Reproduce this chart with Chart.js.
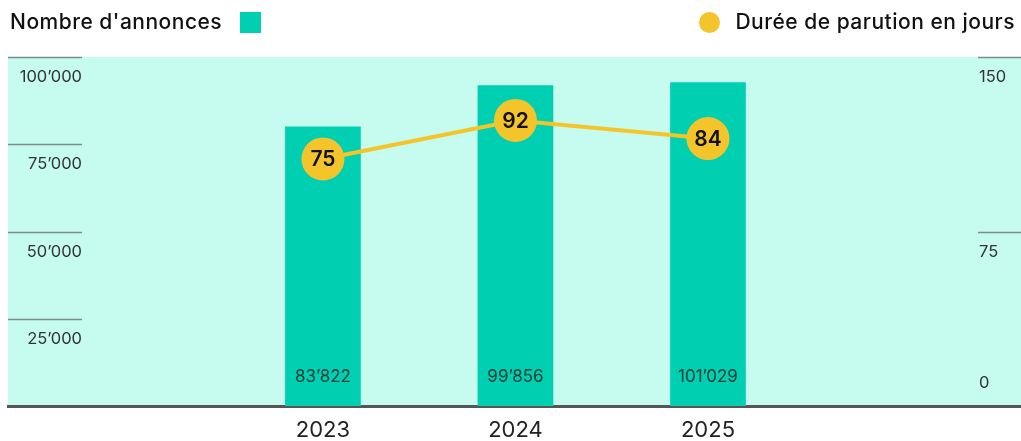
<!DOCTYPE html>
<html lang="fr">
<head>
<meta charset="utf-8">
<title>Nombre d'annonces et durée de parution</title>
<script src="https://cdn.jsdelivr.net/npm/chart.js@4/dist/chart.umd.min.js"></script>
<style>
  html, body { margin: 0; padding: 0; background: #fff; }
  body { width: 1021px; height: 441px; position: relative; overflow: hidden; font-family: Inter, "Noto Sans", sans-serif; }
  #chartWrap { position: absolute; left: 0; top: 0; width: 1021px; height: 441px; }
  .legend { position: absolute; top: 8px; display: flex; align-items: center; font-size: 21px; font-weight: 500; line-height: 28px; letter-spacing: 0.5px; color: #111; }
  #legendLeft { left: 10px; }
  #legendRight { right: 6px; }
  .sq { width: 21px; height: 21px; background: #00cfb1; margin-left: 18px; }
  .dot { width: 21px; height: 21px; border-radius: 50%; background: #f4c52a; margin-right: 15px; }
</style>
</head>
<body>
<div id="chartWrap"><canvas id="chart" width="1021" height="441"></canvas></div>
<div class="legend" id="legendLeft"><span>Nombre d'annonces</span><span class="sq"></span></div>
<div class="legend" id="legendRight"><span class="dot"></span><span>Durée de parution en jours</span></div>
<script>
// values
const years = [2023, 2024, 2025];
const annonces = [83822, 99856, 101029];
const dureeJours = [75, 92, 84];
const leftTicks = [25000, 50000, 75000, 100000];
const rightTicks = [0, 75, 150];

const COLORS = {
  bg: "#c5fcef",
  bar: "#00cfb1",
  yellow: "#f4c52a",
  grid: "#7d8a88",
  text: "#222",
  axis: "#555",
};
const FONT = "Inter, 'Noto Sans', sans-serif";

function fmtNum(n) {
  // swiss style thousands separator
  return String(n).replace(/\B(?=(\d{3})+(?!\d))/g, "\u2019");
}

// mint background + short grid marks + axis labels
const decorPlugin = {
  id: "decor",
  beforeDraw(chart) {
    const { ctx, chartArea: a } = chart;
    ctx.save();
    ctx.fillStyle = COLORS.bg;
    ctx.fillRect(a.left, a.top, a.right - a.left, a.bottom - a.top);
    ctx.restore();
  },
  beforeDatasetsDraw(chart) {
    const { ctx, chartArea: a, scales } = chart;
    ctx.save();
    ctx.strokeStyle = COLORS.grid;
    ctx.lineWidth = 1.5;
    ctx.fillStyle = "#333";
    ctx.font = `16.5px ${FONT}`;
    ctx.textBaseline = "middle";

    leftTicks.forEach((v) => {
      const y = Math.round(scales.yLeft.getPixelForValue(v)) + 0.5;
      ctx.beginPath();
      ctx.moveTo(a.left, y);
      ctx.lineTo(82, y);
      ctx.stroke();
      ctx.textAlign = "right";
      ctx.fillText(fmtNum(v), 82, y + 20);
    });

    rightTicks.forEach((v) => {
      const y = Math.round(scales.yRight.getPixelForValue(v)) + 0.5;
      if (v !== 0) {
        ctx.beginPath();
        ctx.moveTo(978, y);
        ctx.lineTo(a.right, y);
        ctx.stroke();
      }
      ctx.textAlign = "left";
      ctx.fillText(fmtNum(v), 979, v === 0 ? y - 23 : y + 20);
    });
    ctx.restore();
  },
  afterDatasetsDraw(chart) {
    const { ctx } = chart;
    ctx.save();
    ctx.textAlign = "center";
    ctx.textBaseline = "middle";

    // values inside the bars, near the bottom
    const barMeta = chart.getDatasetMeta(1);
    ctx.fillStyle = "#1d3b36";
    ctx.font = `17px ${FONT}`;
    barMeta.data.forEach((el, i) => {
      ctx.fillText(fmtNum(annonces[i]), el.x, chart.chartArea.bottom - 29);
    });

    // numbers inside the yellow dots
    const lineMeta = chart.getDatasetMeta(0);
    ctx.fillStyle = "#111";
    ctx.font = `600 21px ${FONT}`;
    lineMeta.data.forEach((el, i) => {
      ctx.fillText(String(dureeJours[i]), el.x, el.y + 1);
    });
    ctx.restore();
  },
};

new Chart(document.getElementById("chart"), {
  data: {
    datasets: [
      {
        type: "line",
        label: "Durée de parution en jours",
        data: years.map((y, i) => ({ x: y, y: dureeJours[i] })),
        yAxisID: "yLine",
        borderColor: COLORS.yellow,
        borderWidth: 4,
        pointRadius: 21.5,
        pointHoverRadius: 21.5,
        pointBackgroundColor: COLORS.yellow,
        pointBorderWidth: 0,
        tension: 0,
        order: 0,
      },
      {
        type: "bar",
        label: "Nombre d'annonces",
        data: years.map((y, i) => ({ x: y, y: annonces[i] })),
        yAxisID: "yBar",
        base: -25000,
        backgroundColor: COLORS.bar,
        barThickness: 75,
        order: 1,
      },
    ],
  },
  options: {
    responsive: false,
    animation: false,
    layout: { autoPadding: false, padding: { top: 57, left: 8, right: 0, bottom: 0 } },
    plugins: { legend: { display: false }, tooltip: { enabled: false } },
    scales: {
      x: {
        type: "linear",
        min: 2021.364,
        max: 2026.626,
        bounds: "data",
        offset: false,
        afterBuildTicks: (s) => { s.ticks = years.map((v) => ({ value: v })); },
        afterFit: (s) => { s.height = 35; s.paddingLeft = 0; s.paddingRight = 0; },
        ticks: {
          callback: (v) => String(v),
          color: COLORS.text,
          font: { family: FONT, size: 22 },
          padding: 11,
          maxRotation: 0,
        },
        grid: { display: false, drawTicks: false, offset: false },
        border: { display: true, color: COLORS.axis, width: 3 },
      },
      yLeft: { display: false, min: 0, max: 100000 },
      yRight: { display: false, min: 0, max: 150 },
      yBar: { display: false, min: -25000, max: 111000 },
      yLine: { display: false, min: -34, max: 120 },
    },
  },
  plugins: [decorPlugin],
});
</script>
</body>
</html>
